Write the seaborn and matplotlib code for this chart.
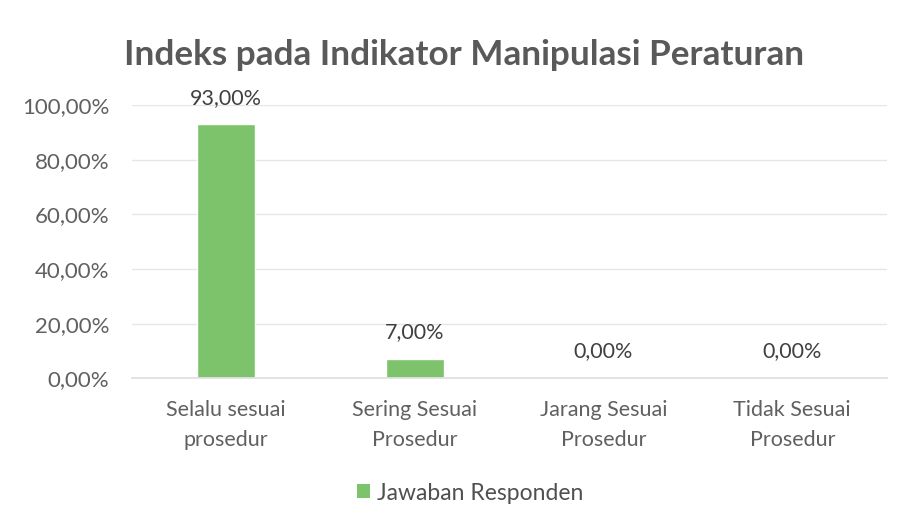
import matplotlib
matplotlib.use("Agg")
import matplotlib.pyplot as plt
import seaborn as sns
import pandas as pd
from matplotlib.ticker import FuncFormatter
from matplotlib.patches import Patch

categories = ["Selalu sesuai\nprosedur", "Sering Sesuai\nProsedur", "Jarang Sesuai\nProsedur", "Tidak Sesuai\nProsedur"]
values = [93.0, 7.0, 0.0, 0.0]
series_name = "Jawaban Responden"
title = "Indeks pada Indikator Manipulasi Peraturan"
yticks = [0, 20, 40, 60, 80, 100]

sns.set_theme(style="white")
plt.rcParams["font.family"] = ["Lato", "DejaVu Sans"]

df = pd.DataFrame({"cat": categories, "val": values})
fig = plt.figure(figsize=(9.02, 5.26), dpi=100)
ax = fig.add_axes([0.146, 0.281, 0.837, 0.519])
bar_color = "#7dc36b"
sns.barplot(data=df, x="cat", y="val", color=bar_color, width=0.31, ax=ax, saturation=1)

ax.set_ylim(0, 100)
ax.set_yticks(yticks)
ax.yaxis.set_major_formatter(FuncFormatter(lambda v, p: f"{v:.2f}".replace(".", ",") + "%"))
ax.grid(axis="y", color="#e6e6e6", linewidth=1)
ax.set_axisbelow(True)
for s in ["top", "right", "left"]:
    ax.spines[s].set_visible(False)
ax.spines["bottom"].set_color("#e0e0e0")
ax.tick_params(axis="y", length=0, labelsize=16, colors="#606060", pad=16)
ax.tick_params(axis="x", length=0, labelsize=15.5, colors="#606060", pad=16)
for lab in ax.get_xticklabels():
    lab.set_linespacing(1.6)
ax.set_xlabel("")
ax.set_ylabel("")

for i, v in enumerate(values):
    ax.annotate(f"{v:.2f}".replace(".", ",") + "%", (i, v), xytext=(0, 12), textcoords="offset points",
                ha="center", va="bottom", fontsize=15.5, color="#404040")

fig.text(464 / 902, 1 - 55 / 526, title, ha="center", va="center", fontsize=25.3, fontweight="bold", color="#595959")

handle = Patch(facecolor=bar_color, edgecolor="none")
fig.legend([handle], [series_name], loc="center", bbox_to_anchor=(470 / 902, 1 - 493 / 526), frameon=False,
           fontsize=16.5, labelcolor="#505050", handlelength=0.55, handleheight=0.55, handletextpad=0.3)

fig.savefig("out.png", dpi=100, facecolor="white")
